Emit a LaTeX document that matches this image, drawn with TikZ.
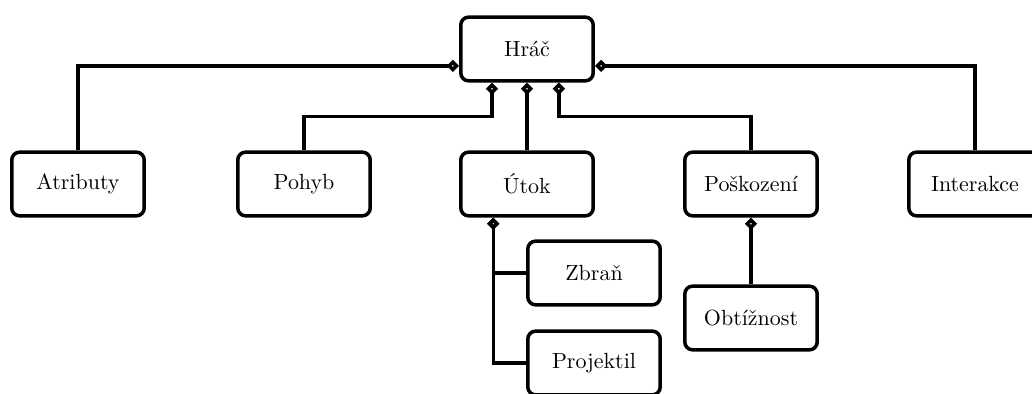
\documentclass[tikz,border=0pt]{standalone}
\usetikzlibrary{arrows.meta}
\tikzstyle{box} = [draw=black, line width=1.6pt, rounded corners=3.6pt, fill=white, minimum width=2.12cm, minimum height=1.02cm]
\tikzstyle{comp} = [line width=1.6pt, {Diamond[open,length=5.6pt,width=5.6pt]}-]
\begin{document}
\begin{tikzpicture}[x=0.016cm,y=-0.016cm]
    \useasboundingbox (0,0) rectangle (1032,394);
    \node[box](hrac) at (527,49){Hráč};
    \node[box](atr) at (78,184){Atributy};
    \node[box](poh) at (304,184){Pohyb};
    \node[box](utok) at (527,184){Útok};
    \node[box](posk) at (751,184){Poškození};
    \node[box](inter) at (975,184){Interakce};
    \node[box](zbran) at (594,273){Zbraň};
    \node[box](proj) at (594,363){Projektil};
    \node[box](obt) at (751,318){Obtížnost};
    \draw[comp]([yshift=-0.27cm]hrac.west) -| (atr.north);
    \draw[comp]([yshift=-0.27cm]hrac.east) -| (inter.north);
    \draw[comp]([xshift=-0.56cm]hrac.south) -- ++(0,34) -| (poh.north);
    \draw[comp](hrac.south) -- (utok.north);
    \draw[comp]([xshift=0.51cm]hrac.south) -- ++(0,34) -| (posk.north);
    \draw[comp]([xshift=-0.54cm]utok.south) |- (zbran.west);
    \draw[comp]([xshift=-0.54cm]utok.south) |- (proj.west);
    \draw[comp](posk.south) -- (obt.north);
  \end{tikzpicture}
\end{document}
